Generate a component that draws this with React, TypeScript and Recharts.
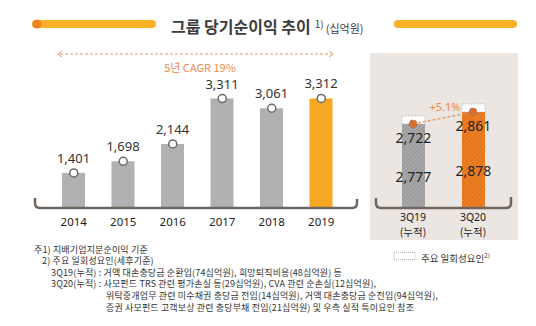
import React from 'react';
import { ComposedChart, Bar, Line, XAxis, YAxis, Cell, LabelList } from 'recharts';

const years = ['2014', '2015', '2016', '2017', '2018', '2019'];
const netIncome = [1401, 1698, 2144, 3311, 3061, 3312];
const yearColors = ['#b1b1b4', '#b1b1b4', '#b1b1b4', '#b1b1b4', '#b1b1b4', '#f7a823'];

const periods = ['3Q19', '3Q20'];
const periodSub = ['(누적)', '(누적)'];
const adjusted = [2722, 2861];
const reported = [2777, 2878];
const oneOff = [93, 93];
const periodFills = ['url(#hatchGray)', 'url(#hatchOrange)'];

const titleText = '그룹 당기순이익 추이';
const unitText = '(십억원)';
const cagrText = '5년 CAGR 19%';
const growthText = '+5.1%';
const legendText = '주요 일회성요인';
const notes = [
  { x: 34, text: '주1) 지배기업지분순이익 기준' },
  { x: 42, text: '2) 주요 일회성요인(세후기준)' },
  { x: 51, text: '3Q19(누적) : 거액 대손충당금 순환입(74십억원), 희망퇴직비용(48십억원) 등' },
  { x: 51, text: '3Q20(누적) : 사모펀드 TRS 관련 평가손실 등(29십억원), CVA 관련 순손실(12십억원),' },
  { x: 106, text: '위탁중개업무 관련 미수채권 충당금 전입(14십억원), 거액 대손충당금 순전입(94십억원),' },
  { x: 106, text: '증권 사모펀드 고객보상 관련 충당부채 전입(21십억원) 및 우측 실적 특이요인 참조' },
];

const leftData = years.map((y, i) => ({ year: y, value: netIncome[i] }));
const rightData = periods.map((p, i) => ({
  period: p,
  sub: periodSub[i],
  adjusted: adjusted[i],
  reported: reported[i],
  oneOff: oneOff[i],
}));

const NUM_FONT = "'Noto Sans', 'Noto Sans CJK KR', sans-serif";
const KR_FONT = "'Noto Sans CJK KR', 'Noto Sans', sans-serif";
const fmt = (v: any) => Number(v).toLocaleString('en-US');

const PeriodTick = (props: any) => {
  const { x, y, payload } = props;
  const idx = payload.index;
  return (
    <g>
      <text x={x} y={y + 5} textAnchor="middle" fontSize={10.5} fill="#222" fontFamily={NUM_FONT}>
        {payload.value}
      </text>
      <text x={x} y={y + 20} textAnchor="middle" fontSize={10.5} fill="#222" fontFamily={KR_FONT}>
        {periodSub[idx]}
      </text>
    </g>
  );
};

const ReportedLabel = (props: any) => {
  const { x, y, width, height, value } = props;
  return (
    <text
      x={x + width / 2}
      y={y + height / 2 + 10}
      textAnchor="middle"
      dominantBaseline="central"
      fontSize={14}
      fill="#222"
      fontFamily={NUM_FONT}
    >
      {fmt(value)}
    </text>
  );
};

export default function App() {
  return (
    <div style={{ position: 'absolute', left: 0, top: 0, width: 536, height: 326, background: '#fff', overflow: 'hidden' }}>
      {/* right panel background */}
      <div style={{ position: 'absolute', left: 370, top: 53, width: 148, height: 187, background: '#ebe6e1' }} />

      {/* title */}
      <div
        style={{
          position: 'absolute',
          left: 171,
          top: 13,
          whiteSpace: 'nowrap',
          fontFamily: KR_FONT,
          color: '#3b3b3b',
          lineHeight: '22px',
        }}
      >
        <span style={{ fontSize: 16, fontWeight: 700 }}>{titleText}</span>
        <span style={{ fontSize: 10, verticalAlign: 5, marginLeft: 4 }}>1)</span>
        <span style={{ fontSize: 11, marginLeft: 2 }}>{unitText}</span>
      </div>

      {/* CAGR text */}
      <div
        style={{
          position: 'absolute',
          left: 100,
          width: 200,
          top: 59,
          textAlign: 'center',
          fontSize: 11,
          color: '#ec8a4e',
          fontFamily: KR_FONT,
          lineHeight: '16px',
        }}
      >
        {cagrText}
      </div>

      {/* left chart */}
      <div style={{ position: 'absolute', left: 0, top: 0 }}>
        <ComposedChart width={360} height={240} data={leftData} margin={{ top: 60, right: 14, left: 49, bottom: 2 }}>
          <XAxis
            dataKey="year"
            axisLine={false}
            tickLine={false}
            interval={0}
            height={30}
            tickMargin={4}
            tick={{ fontSize: 11.5, fill: '#222', fontFamily: NUM_FONT }}
          />
          <YAxis hide type="number" domain={[500, 4300]} allowDataOverflow />
          <Bar dataKey="value" barSize={23} isAnimationActive={false}>
            {leftData.map((d, i) => (
              <Cell key={d.year} fill={yearColors[i]} />
            ))}
            <LabelList
              dataKey="value"
              position="top"
              offset={10}
              formatter={fmt}
              fill="#333"
              fontSize={13}
              fontFamily={NUM_FONT}
            />
          </Bar>
          <Line
            dataKey="value"
            stroke="none"
            isAnimationActive={false}
            activeDot={false}
            dot={{ r: 4, fill: '#fff', stroke: '#6a6a6a', strokeWidth: 1.5 }}
          />
        </ComposedChart>
      </div>

      {/* right chart */}
      <div style={{ position: 'absolute', left: 370, top: 53 }}>
        <ComposedChart width={148} height={187} data={rightData} margin={{ top: 47, right: 15, left: 13, bottom: 2 }}>
          <defs>
            <pattern id="hatchGray" patternUnits="userSpaceOnUse" width="3" height="3" patternTransform="rotate(45)">
              <rect width="3" height="3" fill="#a7a7aa" />
              <line x1="0" y1="0" x2="0" y2="3" stroke="#8c8c8f" strokeWidth="1.2" />
            </pattern>
            <pattern id="hatchOrange" patternUnits="userSpaceOnUse" width="3" height="3" patternTransform="rotate(45)">
              <rect width="3" height="3" fill="#ee7f22" />
              <line x1="0" y1="0" x2="0" y2="3" stroke="#cf6418" strokeWidth="1.2" />
            </pattern>
          </defs>
          <XAxis dataKey="period" axisLine={false} tickLine={false} interval={0} height={30} tick={<PeriodTick />} />
          <YAxis hide type="number" domain={[1750, 3000]} allowDataOverflow />
          <Bar dataKey="adjusted" stackId="s" barSize={23} isAnimationActive={false}>
            {rightData.map((d, i) => (
              <Cell key={d.period} fill={periodFills[i]} />
            ))}
            <LabelList
              dataKey="adjusted"
              position="insideTop"
              offset={9}
              formatter={fmt}
              fill="#222"
              fontSize={14}
              fontFamily={NUM_FONT}
            />
            <LabelList dataKey="reported" content={<ReportedLabel />} />
          </Bar>
          <Bar
            dataKey="oneOff"
            stackId="s"
            barSize={23}
            fill="#ffffff"
            stroke="#b5b5b5"
            strokeWidth={0.8}
            strokeDasharray="1.5 1.5"
            isAnimationActive={false}
          />
          <Line
            dataKey="adjusted"
            stroke="#ea8c54"
            strokeWidth={1.2}
            strokeDasharray="3 2"
            isAnimationActive={false}
            activeDot={false}
            dot={{ r: 4, fill: '#d8702f', stroke: '#8d7b70', strokeWidth: 1 }}
          />
        </ComposedChart>
      </div>

      {/* growth label */}
      <div
        style={{
          position: 'absolute',
          left: 425,
          width: 40,
          top: 99,
          textAlign: 'center',
          fontSize: 11,
          color: '#ec8a4e',
          fontFamily: NUM_FONT,
          lineHeight: '16px',
        }}
      >
        {growthText}
      </div>

      {/* decorations */}
      <svg width={536} height={326} style={{ position: 'absolute', left: 0, top: 0, pointerEvents: 'none' }}>
        <line x1={36} y1={24} x2={152} y2={24} stroke="#f8b124" strokeWidth={8} strokeLinecap="round" />
        <circle cx={37} cy={24} r={4.5} fill="#f08224" />
        <line x1={398} y1={24} x2={513} y2={24} stroke="#f8b124" strokeWidth={8} strokeLinecap="round" />

        <line x1={60} y1={54} x2={331} y2={54} stroke="#e8956a" strokeWidth={1} strokeDasharray="3 2" />
        <polyline points="62,51 58,54 62,57" fill="none" stroke="#e8956a" strokeWidth={1} />
        <polyline points="329,51 333,54 329,57" fill="none" stroke="#e8956a" strokeWidth={1} />

        <path d="M35,198 L35,203 Q35,208 40,208 L352,208 Q357,208 357,203 L357,199" fill="none" stroke="#6f665f" strokeWidth={2.5} />
        <path d="M376,198 L376,203 Q376,208 381,208 L506,208 Q511,208 511,203 L511,197" fill="none" stroke="#6f665f" strokeWidth={2.5} />

        <rect x={394} y={252.5} width={21} height={7} fill="#fff" stroke="#a0a0a0" strokeWidth={0.8} strokeDasharray="1 1" />
      </svg>

      {/* legend text */}
      <div style={{ position: 'absolute', left: 421, top: 249, fontSize: 9.5, color: '#333', fontFamily: KR_FONT, lineHeight: '14px', whiteSpace: 'nowrap' }}>
        {legendText}
        <span style={{ fontSize: 6, verticalAlign: 4 }}>2)</span>
      </div>

      {/* notes */}
      {notes.map((n, i) => (
        <div
          key={i}
          style={{
            position: 'absolute',
            left: n.x,
            top: 243.5 + i * 11.6,
            fontSize: 9,
            color: '#333',
            fontFamily: KR_FONT,
            lineHeight: '12px',
            whiteSpace: 'nowrap',
            letterSpacing: 0.15,
          }}
        >
          {n.text}
        </div>
      ))}
    </div>
  );
}
